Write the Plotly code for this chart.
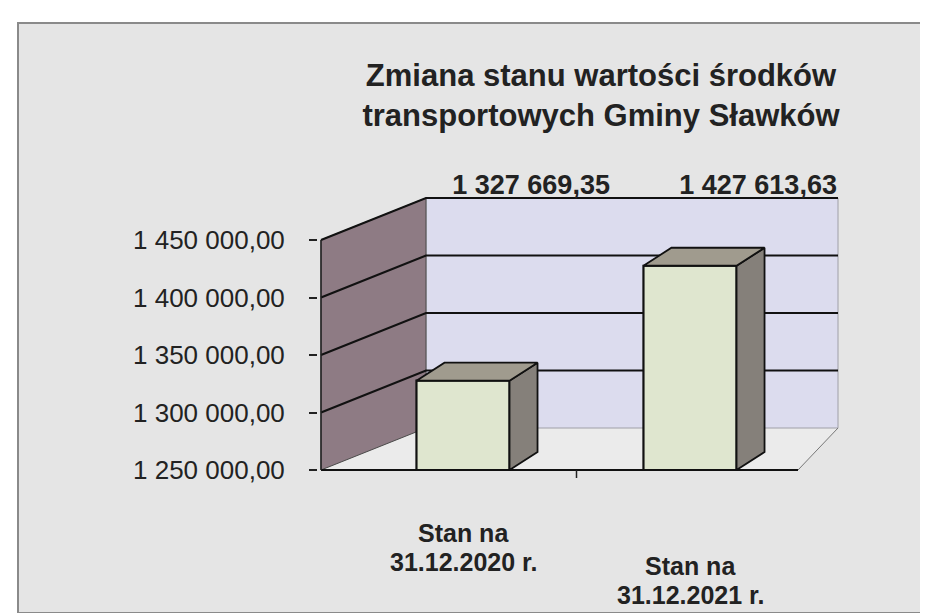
import plotly.graph_objects as go

# ---------------- data ----------------
categories = ["Stan na<br>31.12.2020 r.", "Stan na<br>31.12.2021 r."]
values = [1327669.35, 1427613.63]
tick_values = [1250000, 1300000, 1350000, 1400000, 1450000]
tick_labels = ["1 250 000,00", "1 300 000,00", "1 350 000,00", "1 400 000,00", "1 450 000,00"]
title_text = "Zmiana stanu wartości środków<br>transportowych Gminy Sławków"


def pl_fmt(v):
    return f"{v:,.2f}".replace(",", " ").replace(".", ",")


value_labels = [pl_fmt(v) for v in values]

# ---------------- layout constants (pixels) ----------------
W, H = 928, 613
L, R, T, B = 310, 860, 150, 480
X0_PX, CAT_PX = 455, 227          # pixel of first category, pixels per category
FLOOR = tick_values[0]
TOP = tick_values[-1]
FLOOR_PX = 462
Y_SCALE = 0.00115                 # pixels per value unit


def xd(px):
    return (px - X0_PX) / CAT_PX


def yd(py):
    return FLOOR + (FLOOR_PX - py) / Y_SCALE


def ypaper(py):
    return (B - py) / (B - T)


WDX, WDY = 105 / CAT_PX, 42 / Y_SCALE     # wall depth
BDX, BDY = 28 / CAT_PX, 18 / Y_SCALE      # bar depth
BW = 0.41
XL = xd(313)
XFR = xd(790)
XBR = xd(830)

FONT = "Liberation Sans, Arial, sans-serif"
TXT = "#222222"

shapes = []
# outer frame
shapes.append(dict(type="rect", xref="paper", yref="paper", layer="below",
                   x0=(10 - L) / (R - L), x1=(918 - L) / (R - L),
                   y0=ypaper(605), y1=ypaper(15),
                   fillcolor="#e5e5e5", line=dict(color="#8a8a8a", width=2)))
# floor
shapes.append(dict(type="path", xref="x", yref="y", layer="below",
                   path=f"M {XL},{FLOOR} L {XFR},{FLOOR} L {XBR},{FLOOR + WDY} L {XL + WDX},{FLOOR + WDY} Z",
                   fillcolor="#ebebeb", line=dict(width=0)))
# back wall
shapes.append(dict(type="rect", xref="x", yref="y", layer="below",
                   x0=XL + WDX, x1=XBR, y0=FLOOR + WDY, y1=TOP + WDY,
                   fillcolor="#dcdcee", line=dict(color="#a0a0a8", width=1)))
# left wall
shapes.append(dict(type="path", xref="x", yref="y", layer="below",
                   path=f"M {XL},{FLOOR} L {XL},{TOP} L {XL + WDX},{TOP + WDY} L {XL + WDX},{FLOOR + WDY} Z",
                   fillcolor="#8e7b84", line=dict(color="#4a4a4a", width=1)))
# gridlines (wall + back wall)
for v in tick_values[1:]:
    shapes.append(dict(type="path", xref="x", yref="y", layer="below",
                       path=f"M {XL},{v} L {XL + WDX},{v + WDY} L {XBR},{v + WDY}",
                       line=dict(color="#111111", width=2.2)))
# floor edges
shapes.append(dict(type="line", xref="x", yref="y", layer="below",
                   x0=XL, y0=FLOOR, x1=XFR, y1=FLOOR, line=dict(color="#111111", width=2.2)))
shapes.append(dict(type="line", xref="x", yref="y", layer="below",
                   x0=XFR, y0=FLOOR, x1=XBR, y1=FLOOR + WDY, line=dict(color="#777777", width=1)))
shapes.append(dict(type="line", xref="x", yref="y", layer="below",
                   x0=XL, y0=FLOOR, x1=XL, y1=TOP, line=dict(color="#222222", width=1.5)))
# small tick between categories on floor edge
shapes.append(dict(type="line", xref="x", yref="y", layer="below",
                   x0=0.5, y0=FLOOR, x1=0.5, y1=yd(FLOOR_PX + 8), line=dict(color="#222222", width=1.5)))

fig = go.Figure()

# front faces of bars
fig.add_trace(go.Bar(
    x=list(range(len(values))), y=[v - FLOOR for v in values], base=FLOOR, width=BW,
    marker=dict(color="#dfe6cf", line=dict(color="#111111", width=2.2)),
    hoverinfo="skip", showlegend=False))

# side and top faces
for i, v in enumerate(values):
    xr = i + BW / 2
    xl = i - BW / 2
    fig.add_trace(go.Scatter(
        x=[xr, xr, xr + BDX, xr + BDX, xr], y=[FLOOR, v, v + BDY, FLOOR + BDY, FLOOR],
        fill="toself", fillcolor="#85807a", mode="lines",
        line=dict(color="#111111", width=1.8), hoverinfo="skip", showlegend=False))
    fig.add_trace(go.Scatter(
        x=[xl, xr, xr + BDX, xl + BDX, xl], y=[v, v, v + BDY, v + BDY, v],
        fill="toself", fillcolor="#a09b8e", mode="lines",
        line=dict(color="#111111", width=1.8), hoverinfo="skip", showlegend=False))

# value labels
fig.add_trace(go.Scatter(
    x=[i + 0.3 for i in range(len(values))], y=[yd(179)] * len(values),
    mode="text", text=[f"<b>{t}</b>" for t in value_labels],
    textfont=dict(family=FONT, size=27, color=TXT), cliponaxis=False,
    hoverinfo="skip", showlegend=False))

# category labels, one annotation per line for tight line spacing
annotations = []
for i, c in enumerate(categories):
    for j, line in enumerate(c.split("<br>")):
        annotations.append(dict(x=i, y=ypaper(525 + 33 * i + 29 * j), xref="x", yref="paper",
                                text=f"<b>{line}</b>", yanchor="middle",
                                showarrow=False, align="center",
                                font=dict(family=FONT, size=25, color=TXT)))

fig.update_layout(
    width=W, height=H,
    margin=dict(l=L, r=W - R, t=T, b=H - B),
    paper_bgcolor="white", plot_bgcolor="rgba(0,0,0,0)",
    title=dict(text=f"<b>{title_text}</b>", xref="container", yref="container",
               x=593 / W, xanchor="center", y=1 - 78 / H, yanchor="middle",
               font=dict(family=FONT, size=31, color=TXT)),
    xaxis=dict(range=[xd(L), xd(R)], visible=False, fixedrange=True),
    yaxis=dict(range=[yd(B), yd(T)], tickvals=tick_values, ticktext=tick_labels,
               ticks="outside", ticklen=8, tickcolor="#222222", tickwidth=1.5,
               ticklabelstandoff=19,
               showgrid=False, zeroline=False, showline=False,
               tickfont=dict(family=FONT, size=26, color=TXT), fixedrange=True),
    shapes=shapes, annotations=annotations,
)

fig.write_html("out.html")
